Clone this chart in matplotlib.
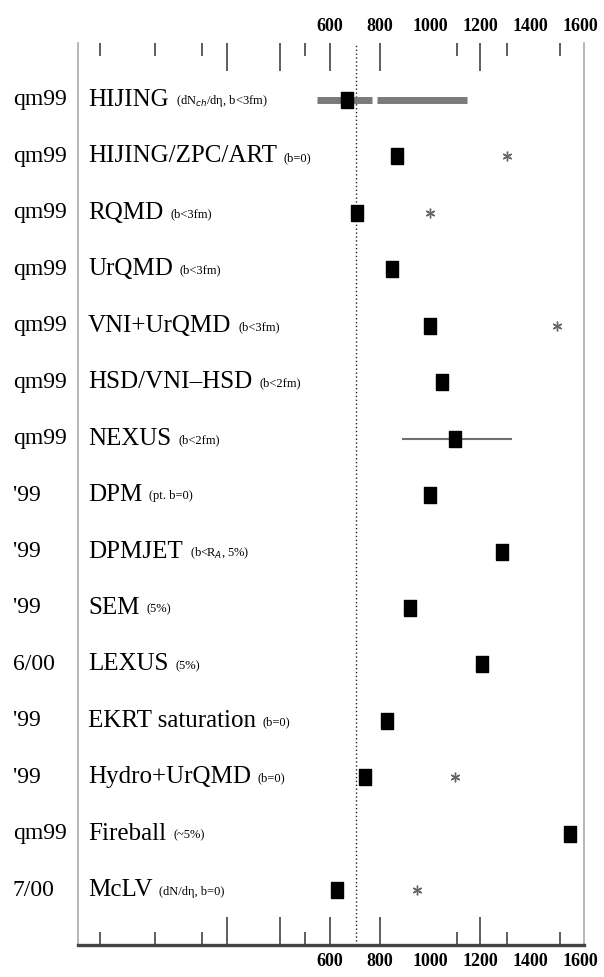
import numpy as np
import matplotlib
matplotlib.use("Agg")
import matplotlib.pyplot as plt
import matplotlib.transforms as mtransforms

plt.rcParams['font.family'] = ['Liberation Serif', 'DejaVu Serif']

# --- data ---
dates = ["qm99", "qm99", "qm99", "qm99", "qm99", "qm99", "qm99", "'99", "'99",
         "'99", "6/00", "'99", "'99", "qm99", "7/00"]
models = ["HIJING", "HIJING/ZPC/ART", "RQMD", "UrQMD", "VNI+UrQMD",
          "HSD/VNI\u2013HSD", "NEXUS", "DPM", "DPMJET", "SEM", "LEXUS",
          "EKRT saturation", "Hydro+UrQMD", "Fireball", "McLV"]
notes = ["(dN$_{ch}$/d\u03b7, b<3fm)", "(b=0)", "(b<3fm)", "(b<3fm)", "(b<3fm)",
         "(b<2fm)", "(b<2fm)", "(pt. b=0)", "(b<R$_A$, 5%)", "(5%)", "(5%)",
         "(b=0)", "(b=0)", "(~5%)", "(dN/d\u03b7, b=0)"]
square_vals = [670, 870, 710, 850, 1000, 1050, 1100, 1000, 1290, 920, 1210,
               830, 740, 1560, 630]
star_vals = [np.nan, 1310, 1000, np.nan, 1510, np.nan, np.nan, np.nan, np.nan,
             np.nan, np.nan, np.nan, 1100, np.nan, 950]
hijing_ranges = [(550, 770), (790, 1150)]
nexus_err = (890, 1330)
ref_value = 705

tick_labels = [600, 800, 1000, 1200, 1400, 1600]
long_ticks = [190, 400, 600, 800, 1200]
short_ticks = [-320, -100, 90, 500, 1110, 1310, 1520]

rows = np.arange(len(models))

fig = plt.figure(figsize=(6.04, 9.77), dpi=100)
ax = fig.add_axes([0.1291, 0.0328, 0.8377, 0.9232])
ax.set_xlim(-408, 1616)
ax.set_ylim(14.97, -1.01)

# reference line
ax.axvline(ref_value, color='#222222', lw=1.0, ls=(0, (1, 1.8)), zorder=1)

# HIJING range bar
for lo, hi in hijing_ranges:
    ax.hlines(rows[0], lo, hi, color='#7a7a7a', lw=5, capstyle='butt', zorder=2)

# NEXUS spread
ax.hlines(rows[6], nexus_err[0], nexus_err[1], color='#707070', lw=1.5, zorder=2)

# model values
rect = [(-0.8, -1), (0.8, -1), (0.8, 1), (-0.8, 1), (-0.8, -1)]
ax.plot(square_vals, rows, ls='none', marker=rect, markersize=11.5,
        color='black', zorder=3)
ax.plot(star_vals, rows, ls='none', marker=(6, 2, 0), markersize=7,
        markeredgewidth=1.0, color='#666666', zorder=3)

# row labels
trans = mtransforms.blended_transform_factory(ax.transAxes, ax.transData)
for r, d, m, n in zip(rows, dates, models, notes):
    ax.text(-0.1285, r, d, transform=trans, ha='left', va='center', fontsize=17)
    t = ax.text(0.0198, r, m, transform=trans, ha='left', va='center', fontsize=18)
    ax.annotate(n, xy=(1, 0.5), xycoords=t, xytext=(5, -1),
                textcoords='offset points', ha='left', va='center', fontsize=9)

# spines
ax.spines['top'].set_visible(False)
ax.spines['left'].set_color('#aaaaaa')
ax.spines['left'].set_linewidth(1.2)
ax.spines['right'].set_color('#aaaaaa')
ax.spines['right'].set_linewidth(1.2)
ax.spines['bottom'].set_color('#444444')
ax.spines['bottom'].set_linewidth(2.4)

# tick marks (no labels on main axis)
ax.set_yticks([])
ax.set_xticks(long_ticks)
ax.set_xticks(short_ticks, minor=True)
ax.tick_params(axis='x', which='both', top=True, bottom=True, direction='in',
               labelbottom=False, labeltop=False, color='#333333', width=1.1)
ax.tick_params(axis='x', which='major', length=20)
ax.tick_params(axis='x', which='minor', length=9.5)

# tick labels, top and bottom
for loc in ['top', 'bottom']:
    sec = ax.secondary_xaxis(loc)
    sec.set_xticks(tick_labels)
    sec.set_xticklabels([str(v) for v in tick_labels], fontsize=13,
                        fontweight='bold')
    sec.tick_params(length=0, pad=6)
    sec.spines[loc].set_visible(False)

fig.savefig("out.png", dpi=100)
